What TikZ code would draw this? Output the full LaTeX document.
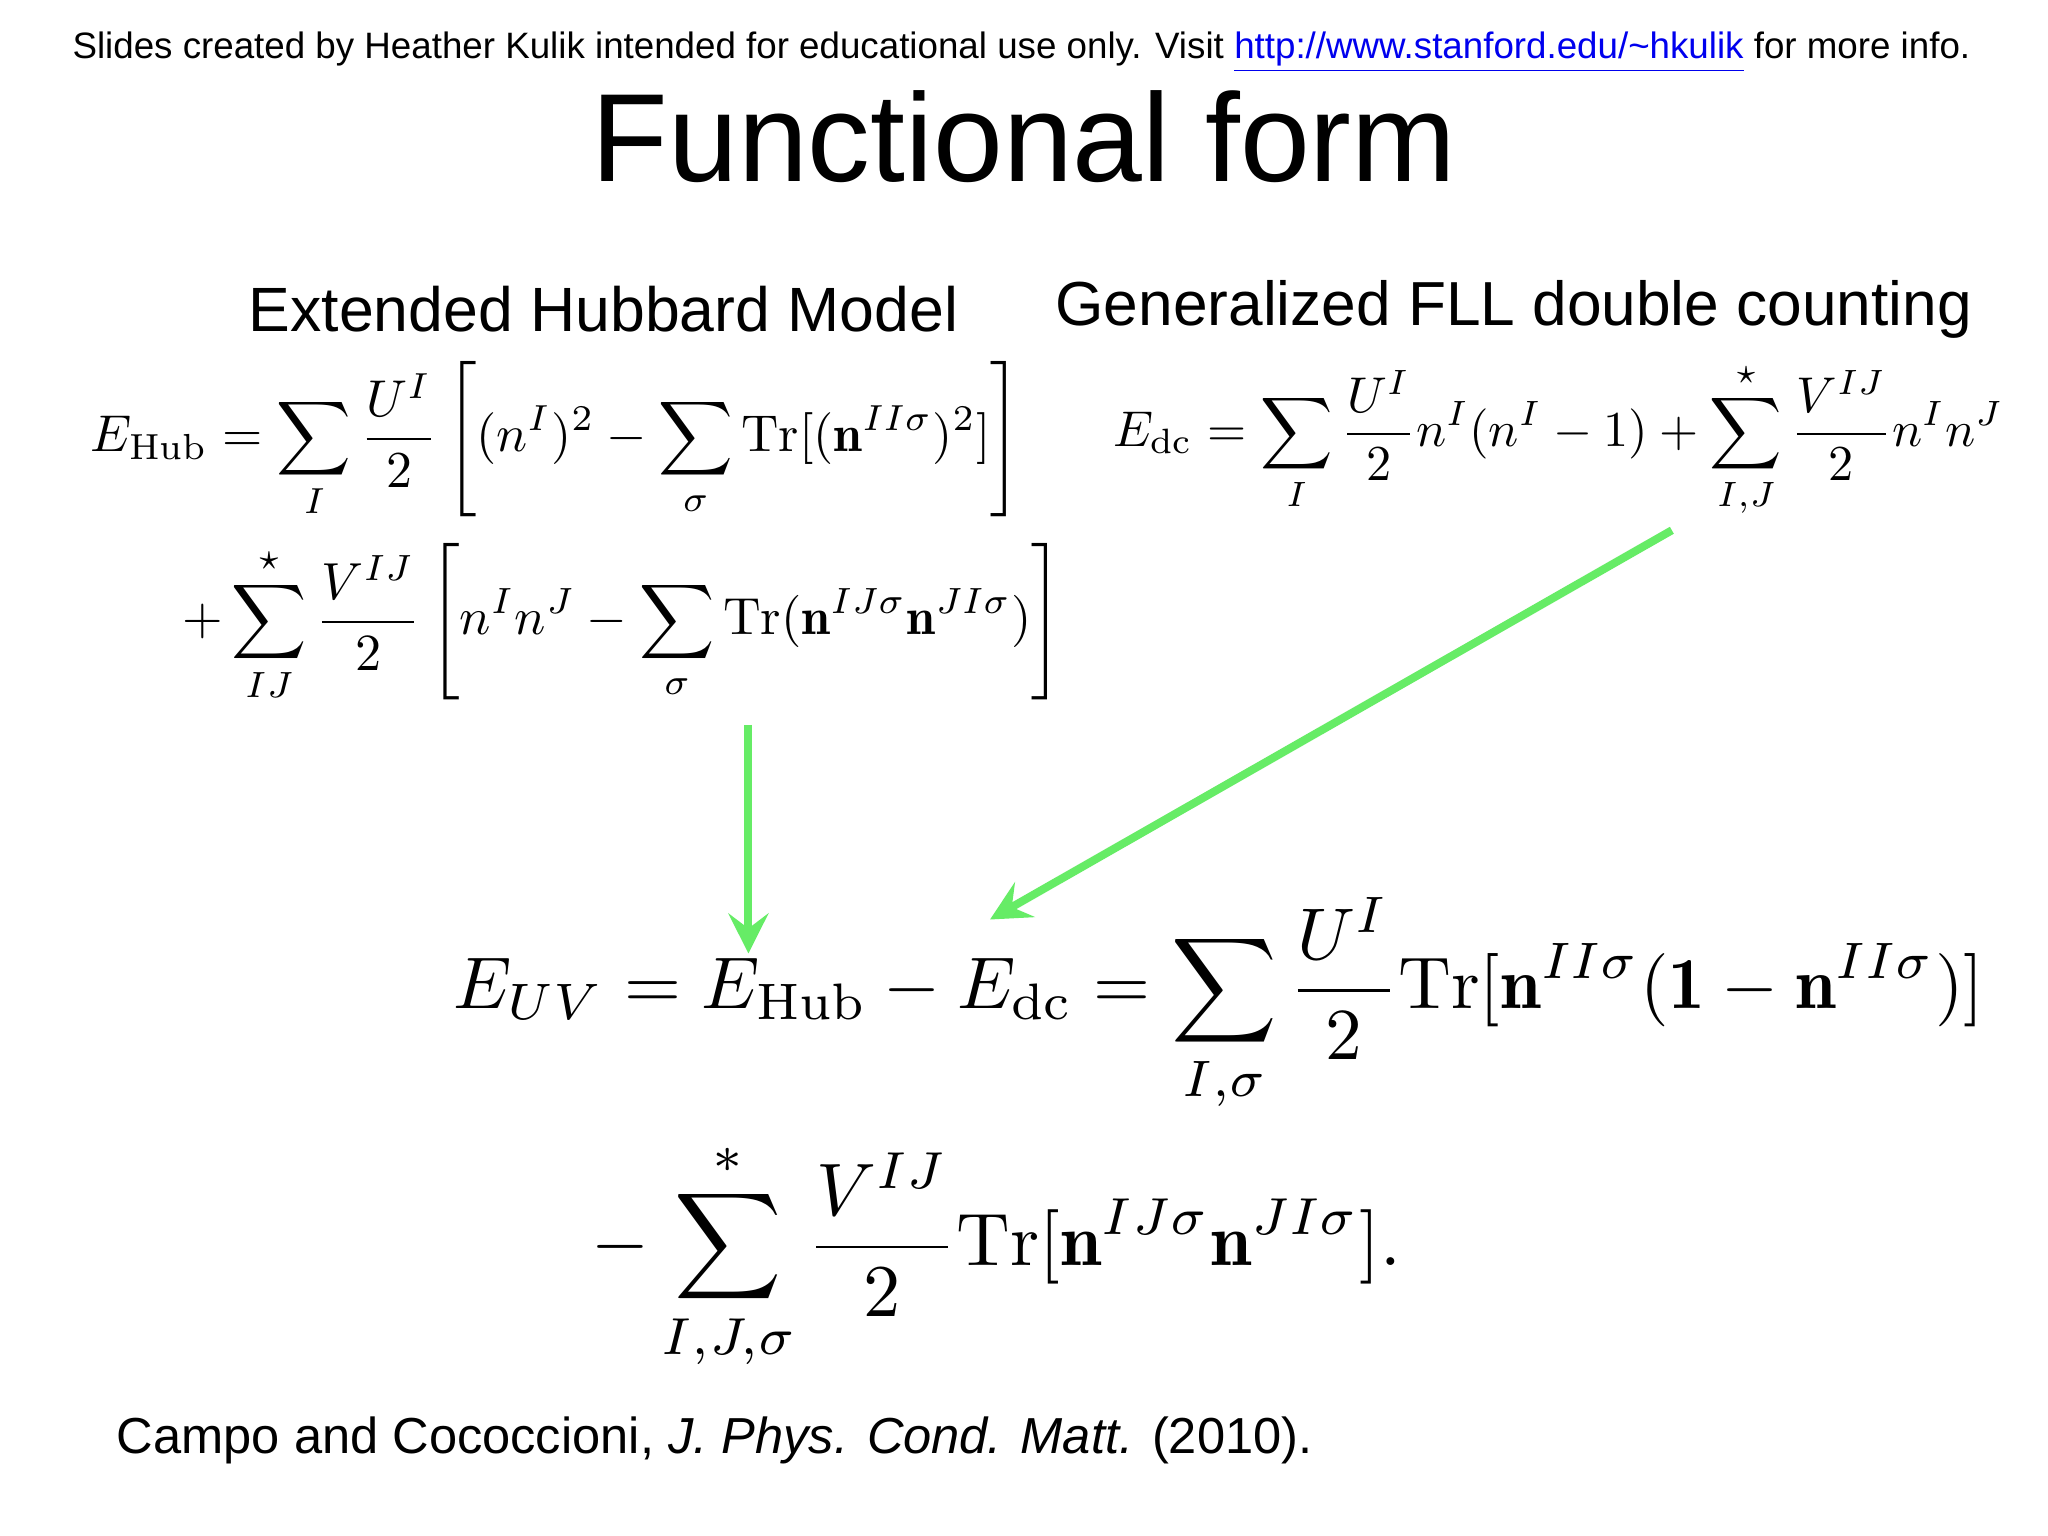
\documentclass[tikz,border=0pt]{standalone}
\usepackage{fontspec}
\usepackage{amsmath}
\usepackage{graphicx}
\setsansfont{Liberation Sans}
\newfontfamily\arial{Liberation Sans}
\usetikzlibrary{arrows.meta}
\definecolor{grn}{RGB}{102,236,102}
\definecolor{lnk}{RGB}{0,0,238}
\tikzset{arr/.style={draw=grn,line width=0.8mm,-{Stealth[length=4mm,width=4mm,inset=1.5mm]}}}
\begin{document}
\begin{tikzpicture}[x=0.01306cm,y=-0.01306cm]
\useasboundingbox (0,0) rectangle (1568,1176);
\fill[white] (0,0) rectangle (1568,1176);
\node[anchor=center] (hdr) at (782,40) {\arial\fontsize{10.45}{12}\selectfont Slides created by Heather Kulik intended for educational use only. Visit \textcolor{lnk}{\underline{http://www.stanford.edu/\textasciitilde hkulik}} for more info.};
\node (title) at (784,105) {\arial\fontsize{35.7}{40}\selectfont Functional form};
\node (s1) at (462,237) {\arial\fontsize{17.8}{20}\selectfont Extended Hubbard Model};
\node (s2) at (1159,237) {\arial\fontsize{17.7}{20}\selectfont Generalized FLL double counting};
\node[anchor=west] (e1) at (60,337) {\resizebox{9.3cm}{!}{$E_{\text{Hub}}=\displaystyle\sum_I\frac{U^I}{2}\left[(n^I)^2-\sum_\sigma \mathrm{Tr}[(\mathbf{n}^{II\sigma})^2]\right]$}};
\node[anchor=west] (e2) at (130,477) {\resizebox{8.8cm}{!}{$+\displaystyle\sum\limits^{\star}_{IJ}\frac{V^{IJ}}{2}\left[n^In^J-\sum_\sigma \mathrm{Tr}(\mathbf{n}^{IJ\sigma}\mathbf{n}^{JI\sigma})\right]$}};
\node[anchor=west] (e3) at (843,337) {\resizebox{8.9cm}{!}{$E_{\text{dc}}=\displaystyle\sum_I\frac{U^I}{2}n^I(n^I-1)+\sum^{\star}_{I,J}\frac{V^{IJ}}{2}n^In^J$}};
\node[anchor=west] (e4) at (338,770) {\resizebox{15.3cm}{!}{$E_{UV}=E_{\text{Hub}}-E_{\text{dc}}=\displaystyle\sum_{I,\sigma}\frac{U^I}{2}\mathrm{Tr}[\mathbf{n}^{II\sigma}(\mathbf{1}-\mathbf{n}^{II\sigma})]$}};
\node[anchor=west] (e5) at (443,962) {\resizebox{8.1cm}{!}{$-\displaystyle\sum^{*}_{I,J,\sigma}\frac{V^{IJ}}{2}\mathrm{Tr}[\mathbf{n}^{IJ\sigma}\mathbf{n}^{JI\sigma}].$}};
\node[anchor=west] (cit) at (80,1103) {\arial\fontsize{14.4}{17}\selectfont Campo and Cococcioni, \textit{J. Phys. Cond. Matt.} (2010).};
\coordinate (a1s) at (573,555);
\coordinate (a1e) at (573,730);
\coordinate (a2s) at (1280,406);
\coordinate (a2e) at (758,704);
\draw[arr] (a1s) -- (a1e);
\draw[arr] (a2s) -- (a2e);
\end{tikzpicture}
\end{document}
